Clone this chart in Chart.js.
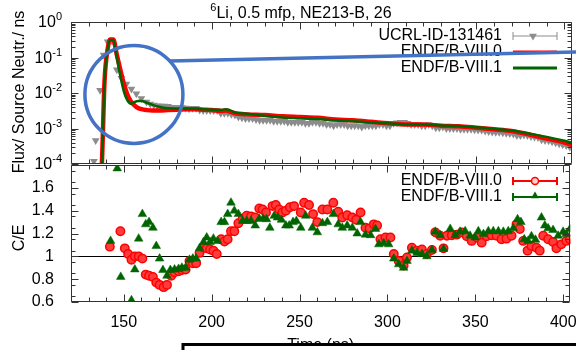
<!DOCTYPE html>
<html>
<head>
<meta charset="utf-8">
<script src="https://cdn.jsdelivr.net/npm/chart.js@4.4.1/dist/chart.umd.min.js"></script>
<style>
  html, body { margin: 0; padding: 0; background: #fff; }
  #wrap { position: relative; width: 576px; height: 350px; overflow: hidden; }
  #wrap canvas { position: absolute; left: 0; top: 0; }
</style>
</head>
<body>
<div id="wrap">
  <canvas id="ceChart" width="576" height="350"></canvas>
  <canvas id="fluxChart" width="576" height="350"></canvas>
</div>
<script>
// ---------- data ----------

// top panel: measured flux (UCRL-ID-131461)
const expTime = [133, 134, 136.5, 138.5, 140.8, 143.3, 146, 148.6, 151.4, 154.3, 157.1, 159.9, 162.8,
  165, 167, 169, 171, 173, 175, 177, 179, 181, 183,
  185, 187, 189, 191, 193, 195, 197, 199, 201, 203,
  205, 207, 209, 211, 213, 215, 217, 219, 221, 223,
  225, 227, 229, 231, 233, 235, 237, 239, 241, 243,
  245, 247, 249, 251, 253, 255, 257, 259, 261, 263,
  265, 267, 269, 271, 273, 275, 277, 279, 281, 283,
  285, 287, 289, 291, 293, 295, 297, 299, 301, 303,
  305, 307, 309, 311, 313, 315, 317, 319, 321, 323,
  325, 327, 329, 331, 333, 335, 337, 339, 341, 343,
  345, 347, 349, 351, 353, 355, 357, 359, 361, 363,
  365, 367, 369, 371, 373, 375, 377, 379, 381, 383,
  385, 387, 389, 391, 393, 395, 397, 399, 401, 403];
const expFlux = [1.2e-4, 4.6e-4, 0.012, 0.117, 0.28, 0.29, 0.045, 0.026, 0.018, 0.013, 0.0095, 0.007, 0.0056,
  0.0049, 0.0046, 0.0044, 0.0043, 0.0043, 0.0042, 0.0040, 0.0039, 0.0039, 0.0039,
  0.0038, 0.0036, 0.0037, 0.0037, 0.0033, 0.0032, 0.0032, 0.0032, 0.0032, 0.0032,
  0.0027, 0.0027, 0.0027, 0.0025, 0.0024, 0.0021, 0.0020, 0.0019, 0.0019, 0.0019,
  0.0018, 0.0017, 0.0017, 0.0017, 0.0017, 0.0016, 0.0016, 0.0016, 0.0016, 0.0015,
  0.0015, 0.0015, 0.0015, 0.0015, 0.0014, 0.0014, 0.0015, 0.0015, 0.0014, 0.0014,
  0.0013, 0.0013, 0.0012, 0.0013, 0.0013, 0.0013, 0.0012, 0.0012, 0.0012, 0.0012,
  0.0011, 0.0012, 0.0012, 0.0012, 0.0012, 0.0013, 0.0013, 0.0012, 0.0012, 0.0014,
  0.00145, 0.0015, 0.0015, 0.0014, 0.0013, 0.0013, 0.0013, 0.0012, 0.0012, 0.0013,
  0.0012, 0.00105, 0.00105, 0.0011, 0.0010, 0.0010, 0.0010, 0.0010, 0.00095, 0.00095,
  0.00096, 0.00095, 0.00092, 0.0009, 0.0009, 0.00085, 0.00082, 0.0008, 0.00078, 0.00078,
  0.00076, 0.00074, 0.00072, 0.0007, 0.00064, 0.00064, 0.00066, 0.00064, 0.0006, 0.00058,
  0.00056, 0.00048, 0.00046, 0.00045, 0.00042, 0.0004, 0.00037, 0.00035, 0.00033, 0.0003];

// top panel: calculations
const calcTime = [136, 137.5, 139, 141, 142, 144, 146, 148, 150, 152, 154, 156, 158, 160, 163, 166, 170,
  175, 180, 185, 190, 195, 200, 205, 208, 210, 213, 220, 230, 240, 250, 260, 270, 280, 290,
  300, 310, 320, 330, 340, 350, 360, 370, 380, 390, 400, 404];
const fluxB80 = [3e-5, 1e-4, 0.02, 0.2, 0.32, 0.32, 0.12, 0.045, 0.018, 0.009, 0.0058, 0.0045, 0.0038, 0.0035, 0.0033, 0.0032, 0.0032,
  0.0033, 0.0034, 0.0035, 0.0035, 0.0034, 0.0033, 0.0031, 0.0032, 0.0030, 0.0027, 0.0025, 0.0024, 0.0022, 0.0021, 0.0020, 0.0018, 0.0017, 0.00155,
  0.0014, 0.0013, 0.0013, 0.0012, 0.00115, 0.00105, 0.00095, 0.00085, 0.00068, 0.00052, 0.0004, 0.00034];
const fluxB81 = [3e-5, 1e-4, 0.02, 0.2, 0.31, 0.31, 0.1, 0.03, 0.011, 0.0062, 0.005, 0.0055, 0.006, 0.006, 0.0053, 0.0047, 0.0041,
  0.0037, 0.0036, 0.0036, 0.0036, 0.0035, 0.0034, 0.0033, 0.0035, 0.0033, 0.0028, 0.0026, 0.0023, 0.00205, 0.00195, 0.00185, 0.0017, 0.0016, 0.00148,
  0.0014, 0.0013, 0.0013, 0.00122, 0.00118, 0.00108, 0.00098, 0.00088, 0.00072, 0.00058, 0.00045, 0.0004];

// bottom panel: C/E
const ceTime80 = [142.1, 148.1, 150.6, 152.5, 154.4, 156.3, 158.5, 160.6, 162.5, 164.4, 166.6, 168.5, 170.4, 172.7, 174.6,
  177.0, 178.9, 181.2, 183.1, 185.2, 187.4, 189.3, 191.2, 193.1, 195.4, 197.2, 199.1, 201.0, 202.9, 205.4, 207.3, 209.1,
  211.0, 212.9, 215.2, 217.6, 219.9, 222.4, 224.8, 227.1, 229.0, 230.9, 234.6, 236.5, 238.4, 240.3, 242.2, 244.5, 246.9,
  250.7, 252.6, 255.4, 257.7, 260.1, 263.0, 265.8, 269.2, 272.0, 274.3, 277.1, 280.0, 282.2, 284.7, 287.5, 289.8, 292.2,
  294.1, 296.0, 298.9, 301.7, 303.6, 306.4, 309.2, 311.1, 313.9, 316.8, 319.6, 322.4, 325.3, 327.2, 330.0, 331.9, 333.8,
  336.6, 339.4, 342.3, 345.1, 347.9, 350.8, 353.6, 356.4, 359.3, 362.1, 364.9, 367.7, 370.6, 373.4, 375.3, 377.2, 379.7,
  381.9, 384.8, 386.6, 388.6, 391.4, 394.2, 396.1, 398.9, 401.7, 403.8];
const ce80 = [1.085, 1.22, 1.07, 1.02, 0.97, 1.0, 1.0, 0.98, 0.84, 0.83, 0.82, 0.77, 0.75, 0.73, 0.75,
  0.83, 0.86, 0.87, 0.88, 0.885, 0.96, 0.94, 0.94, 1.03, 1.075, 1.07, 1.06, 1.05, 1.02, 1.15, 1.13, 1.15,
  1.22, 1.22, 1.29, 1.33, 1.355, 1.35, 1.34, 1.42, 1.41, 1.385, 1.44, 1.45, 1.41, 1.385, 1.40, 1.43, 1.44,
  1.385, 1.47, 1.45, 1.37, 1.30, 1.41, 1.41, 1.47, 1.39, 1.34, 1.36, 1.34, 1.32, 1.385, 1.25, 1.245, 1.28,
  1.27, 1.15, 1.165, 1.165, 1.02, 0.96, 0.92, 0.99, 1.075, 1.05, 1.06, 1.02, 1.055, 1.21, 1.18, 1.07, 1.18,
  1.185, 1.19, 1.21, 1.175, 1.135, 1.165, 1.12, 1.175, 1.185, 1.18, 1.15, 1.155, 1.18, 1.28, 1.24, 1.135, 1.05,
  1.09, 1.075, 1.05, 1.18, 1.15, 1.125, 1.07, 1.105, 1.135, 1.15];
const ceTime81 = [142.5, 146.3, 148.3, 154.4, 156.3, 158.5, 160.6, 162.5, 164.4, 166.6, 168.5, 170.4, 172.3, 174.6, 176.5,
  178.9, 181.2, 183.1, 185.2, 187.4, 189.3, 191.2, 193.1, 195.4, 197.2, 199.1, 201.0, 203.4, 205.4, 207.3, 209.1,
  211.0, 212.9, 215.2, 217.6, 219.9, 222.4, 224.8, 227.1, 229.3, 231.2, 233.1, 235.6, 237.5, 239.7, 242.2, 244.1,
  246.3, 248.2, 250.7, 253.5, 257.3, 260.1, 263.0, 265.8, 269.2, 272.0, 274.3, 277.1, 280.0, 282.8, 284.7, 287.5,
  290.4, 293.2, 295.1, 297.9, 300.7, 303.6, 306.4, 309.2, 311.1, 313.9, 316.8, 319.6, 322.4, 325.3, 327.2, 330.0,
  331.9, 335.7, 338.5, 341.3, 344.2, 347.0, 349.9, 351.7, 354.6, 357.4, 360.2, 363.1, 365.9, 368.7, 371.6, 374.0,
  375.9, 377.8, 380.0, 381.9, 384.2, 387.6, 389.5, 391.4, 394.2, 397.1, 399.9, 401.7, 403.8];
const ce81 = [1.135, 1.77, 0.82, 0.615, 0.885, 1.155, 1.37, 1.28, 1.30, 1.25, 1.09, 0.98, 0.88, 0.83, 0.88,
  0.885, 0.89, 0.90, 0.90, 0.97, 0.98, 0.98, 1.07, 1.125, 1.165, 1.125, 1.155, 1.135, 1.30, 1.30, 1.37,
  1.47, 1.40, 1.37, 1.31, 1.31, 1.31, 1.27, 1.33, 1.33, 1.325, 1.25, 1.355, 1.34, 1.32, 1.27, 1.27,
  1.30, 1.31, 1.25, 1.355, 1.25, 1.21, 1.29, 1.30, 1.37, 1.28, 1.25, 1.27, 1.25, 1.20, 1.30, 1.19,
  1.185, 1.24, 1.105, 1.115, 1.105, 0.98, 0.93, 0.90, 0.96, 1.05, 1.03, 1.02, 1.00, 1.055, 1.215, 1.185,
  1.065, 1.24, 1.185, 1.215, 1.22, 1.18, 1.165, 1.22, 1.195, 1.22, 1.22, 1.22, 1.215, 1.22, 1.245, 1.325,
  1.30, 1.15, 1.135, 1.175, 1.145, 1.34, 1.27, 1.245, 1.23, 1.18, 1.215, 1.195, 1.24];

// axes
const timeRange = [120, 404];
const timeTicks = [150, 200, 250, 300, 350, 400];
const fluxDecades = [1, 0.1, 0.01, 0.001, 0.0001];
const ceRange = [0.6, 1.8];
const ceTicks = [0.6, 0.8, 1, 1.2, 1.4, 1.6, 1.8];
const ceLabelTicks = [0.6, 0.8, 1, 1.2, 1.4, 1.6];

// blue zoom mark drawn over the top panel
const zoomMark = { t: 155.7, flux: 0.0091, radius: 49 };

// ---------- drawing ----------

const FONT = "'Liberation Sans', Arial, Helvetica, sans-serif";
const GRAY = '#8c8c8c', RED = '#ff0000', GREEN = '#006400', BLUE = '#4472c4';

Chart.defaults.font.family = FONT;
Chart.defaults.font.size = 16;
Chart.defaults.color = '#000';

const toXY = (xs, ys) => xs.map((x, i) => ({ x: x, y: ys[i] }));

function minorTimeTicks() {
  const out = [];
  for (let v = 120; v <= 400; v += 10) if (v % 50) out.push(v);
  return out;
}

// gnuplot-style border with ticks pointing inwards on all four sides
function drawFrame(ctx, a, xs, ys, xMajor, xMinor, yMajor, yMinor) {
  ctx.save();
  ctx.strokeStyle = '#333';
  ctx.lineWidth = 1;
  ctx.beginPath();
  const L = Math.round(a.left) + 0.5, R = Math.round(a.right) - 0.5;
  const T = Math.round(a.top) + 0.5, B = Math.round(a.bottom) - 0.5;
  ctx.rect(L, T, R - L, B - T);
  const xt = (vals, len) => vals.forEach(v => {
    const px = Math.round(xs.getPixelForValue(v)) + 0.5;
    ctx.moveTo(px, B); ctx.lineTo(px, B - len);
    ctx.moveTo(px, T); ctx.lineTo(px, T + len);
  });
  const yt = (vals, len) => vals.forEach(v => {
    const py = Math.round(ys.getPixelForValue(v)) + 0.5;
    ctx.moveTo(L, py); ctx.lineTo(L + len, py);
    ctx.moveTo(R, py); ctx.lineTo(R - len, py);
  });
  xt(xMajor, 7); xt(xMinor, 4);
  yt(yMajor, 7); yt(yMinor, 4);
  ctx.stroke();
  ctx.restore();
}

function legendRow(ctx, label, y, symbol) {
  ctx.save();
  ctx.font = '16px ' + FONT;
  ctx.fillStyle = '#000';
  ctx.textAlign = 'right';
  ctx.textBaseline = 'middle';
  ctx.fillText(label, 502, y);
  symbol(513, 557, y);
  ctx.restore();
}

function barSymbol(ctx, color, width, caps) {
  return (x1, x2, y) => {
    ctx.strokeStyle = color;
    ctx.lineWidth = width;
    ctx.beginPath();
    ctx.moveTo(x1, y); ctx.lineTo(x2, y);
    if (caps) {
      ctx.moveTo(x1, y - 4); ctx.lineTo(x1, y + 4);
      ctx.moveTo(x2, y - 4); ctx.lineTo(x2, y + 4);
    }
    ctx.stroke();
  };
}

function rotatedText(ctx, text, x, y) {
  ctx.save();
  ctx.translate(x, y);
  ctx.rotate(-Math.PI / 2);
  ctx.font = '16px ' + FONT;
  ctx.fillStyle = '#000';
  ctx.textAlign = 'center';
  ctx.textBaseline = 'middle';
  ctx.fillText(text, 0, 0);
  ctx.restore();
}

const fluxDecor = {
  id: 'fluxDecor',
  afterDatasetsDraw(chart) {
    const { ctx, chartArea: a, scales: { x, y } } = chart;
    const yMinor = [];
    for (let d = -4; d < 0; d++) for (let m = 2; m < 10; m++) yMinor.push(m * Math.pow(10, d));
    drawFrame(ctx, a, x, y, timeTicks, minorTimeTicks(), fluxDecades, yMinor);
  },
  afterDraw(chart) {
    const { ctx, scales: { x, y } } = chart;
    ctx.save();
    ctx.fillStyle = '#000';
    ctx.textBaseline = 'middle';
    ctx.textAlign = 'left';

    // 10^n labels
    fluxDecades.forEach(v => {
      const e = String(Math.round(Math.log10(v)));
      const py = y.getPixelForValue(v);
      ctx.font = '16px ' + FONT;
      const wb = ctx.measureText('10').width;
      ctx.font = '11px ' + FONT;
      const we = ctx.measureText(e).width;
      const x0 = 62 - wb - we;
      ctx.font = '16px ' + FONT;
      ctx.fillText('10', x0, py + 1);
      ctx.font = '11px ' + FONT;
      ctx.fillText(e, x0 + wb, py - 5);
    });

    // title with superscript mass number
    const rest = 'Li, 0.5 mfp, NE213-B, 26';
    ctx.font = '11px ' + FONT;
    const w6 = ctx.measureText('6').width;
    ctx.font = '16px ' + FONT;
    const wr = ctx.measureText(rest).width;
    const tx = 301 - (w6 + wr) / 2;
    ctx.fillText(rest, tx + w6, 14);
    ctx.font = '11px ' + FONT;
    ctx.fillText('6', tx, 8);
    ctx.restore();

    rotatedText(ctx, 'Flux/ Source Neutr./ ns', 20, 92);

    // legend
    legendRow(ctx, 'UCRL-ID-131461', 36, (x1, x2, ly) => {
      barSymbol(ctx, GRAY, 1, true)(x1, x2, ly);
      ctx.fillStyle = GRAY;
      Chart.helpers.drawPoint(ctx, { pointStyle: 'triangle', rotation: 180, radius: 4.5, borderWidth: 0 }, (x1 + x2) / 2 - 2, ly);
    });
    legendRow(ctx, 'ENDF/B-VIII.0', 52, barSymbol(ctx, RED, 3, false));
    legendRow(ctx, 'ENDF/B-VIII.1', 68, barSymbol(ctx, GREEN, 3, false));

    // blue zoom circle and pointer line
    ctx.save();
    ctx.strokeStyle = BLUE;
    ctx.lineWidth = 3.5;
    const cx = x.getPixelForValue(zoomMark.t);
    const cy = y.getPixelForValue(zoomMark.flux);
    const r = zoomMark.radius;
    ctx.beginPath();
    ctx.arc(cx, cy, r, 0, Math.PI * 2);
    ctx.stroke();
    const ang = -43 * Math.PI / 180;
    ctx.beginPath();
    ctx.moveTo(cx + r * Math.cos(ang), cy + r * Math.sin(ang));
    ctx.lineTo(chart.width + 2, 52);
    ctx.stroke();

    // black box over the bottom edge
    ctx.fillStyle = '#fff';
    ctx.fillRect(183, 344, chart.width, 20);
    ctx.strokeStyle = '#000';
    ctx.lineWidth = 3;
    ctx.strokeRect(183, 344.5, chart.width, 30);
    ctx.restore();
  }
};

const ceDecor = {
  id: 'ceDecor',
  beforeDatasetsDraw(chart) {
    const { ctx, chartArea: a, scales: { y } } = chart;
    const py = Math.round(y.getPixelForValue(1)) + 0.5;
    ctx.save();
    ctx.strokeStyle = '#000';
    ctx.lineWidth = 1;
    ctx.beginPath();
    ctx.moveTo(a.left, py); ctx.lineTo(a.right, py);
    ctx.stroke();
    ctx.restore();
  },
  afterDatasetsDraw(chart) {
    const { ctx, chartArea: a, scales: { x, y } } = chart;
    const yMinor = [];
    for (let v = 0.65; v < 1.8; v += 0.1) yMinor.push(v);
    drawFrame(ctx, a, x, y, timeTicks, minorTimeTicks(), ceTicks, yMinor);
  },
  afterDraw(chart) {
    const { ctx, chartArea: a } = chart;
    legendRow(ctx, 'ENDF/B-VIII.0', 181, (x1, x2, ly) => {
      barSymbol(ctx, RED, 2, true)(x1, x2, ly);
      ctx.fillStyle = '#ffd0d0';
      ctx.strokeStyle = RED;
      ctx.lineWidth = 1.5;
      Chart.helpers.drawPoint(ctx, { pointStyle: 'circle', radius: 3.5, borderWidth: 1.5 }, (x1 + x2) / 2, ly);
    });
    legendRow(ctx, 'ENDF/B-VIII.1', 197, (x1, x2, ly) => {
      barSymbol(ctx, GREEN, 2, true)(x1, x2, ly);
      ctx.fillStyle = GREEN;
      Chart.helpers.drawPoint(ctx, { pointStyle: 'triangle', radius: 4.5, borderWidth: 0 }, (x1 + x2) / 2, ly - 1);
    });
    rotatedText(ctx, 'C/E', 20, 238);
    ctx.save();
    ctx.font = '16px ' + FONT;
    ctx.fillStyle = '#000';
    ctx.textAlign = 'center';
    ctx.textBaseline = 'alphabetic';
    ctx.fillText('Time (ns)', (a.left + a.right) / 2, 349.5);
    ctx.restore();
  }
};

// ---------- bottom panel: C/E ----------
new Chart(document.getElementById('ceChart'), {
  type: 'scatter',
  data: {
    datasets: [
      {
        label: 'ENDF/B-VIII.1',
        data: toXY(ceTime81, ce81),
        pointStyle: 'triangle',
        pointRadius: 5,
        pointBackgroundColor: GREEN,
        pointBorderColor: GREEN,
        pointBorderWidth: 0.5,
        order: 0
      },
      {
        label: 'ENDF/B-VIII.0',
        data: toXY(ceTime80, ce80),
        pointStyle: 'circle',
        pointRadius: 4.2,
        pointBackgroundColor: '#ff3c3c',
        pointBorderColor: RED,
        pointBorderWidth: 1.5,
        order: 1
      }
    ]
  },
  options: {
    responsive: false,
    animation: false,
    events: [],
    layout: { padding: { left: 0, top: 165, right: 2, bottom: 0 } },
    scales: {
      x: {
        type: 'linear',
        min: timeRange[0],
        max: timeRange[1],
        afterBuildTicks: s => { s.ticks = timeTicks.map(v => ({ value: v })); },
        afterFit: s => { s.height = 48; s.paddingLeft = 0; s.paddingRight = 0; },
        grid: { display: false },
        border: { display: false },
        ticks: { padding: 3, maxRotation: 0, autoSkip: false }
      },
      y: {
        type: 'linear',
        min: ceRange[0],
        max: ceRange[1],
        afterBuildTicks: s => { s.ticks = ceLabelTicks.map(v => ({ value: v })); },
        afterFit: s => { s.width = 71; s.paddingTop = 0; s.paddingBottom = 0; },
        grid: { display: false },
        border: { display: false },
        ticks: { padding: 9, autoSkip: false, callback: v => String(Math.round(v * 10) / 10) }
      }
    },
    plugins: { legend: { display: false }, tooltip: { enabled: false } }
  },
  plugins: [ceDecor]
});

// ---------- top panel: flux ----------
new Chart(document.getElementById('fluxChart'), {
  type: 'line',
  data: {
    datasets: [
      {
        label: 'ENDF/B-VIII.1',
        data: toXY(calcTime, fluxB81),
        borderColor: GREEN,
        borderWidth: 2.5,
        pointRadius: 0,
        cubicInterpolationMode: 'monotone',
        order: 0
      },
      {
        label: 'ENDF/B-VIII.0',
        data: toXY(calcTime, fluxB80),
        borderColor: RED,
        borderWidth: 4.5,
        pointRadius: 0,
        cubicInterpolationMode: 'monotone',
        order: 1
      },
      {
        label: 'UCRL-ID-131461',
        data: toXY(expTime, expFlux),
        showLine: false,
        pointStyle: 'triangle',
        pointRotation: 180,
        pointRadius: 4.5,
        pointBackgroundColor: GRAY,
        pointBorderColor: GRAY,
        pointBorderWidth: 0,
        order: 2
      }
    ]
  },
  options: {
    responsive: false,
    animation: false,
    events: [],
    layout: { padding: { left: 71, top: 22, right: 2, bottom: 186 } },
    scales: {
      x: { type: 'linear', min: timeRange[0], max: timeRange[1], display: false },
      y: { type: 'logarithmic', min: 1e-4, max: 1, display: false }
    },
    plugins: { legend: { display: false }, tooltip: { enabled: false } }
  },
  plugins: [fluxDecor]
});
</script>
</body>
</html>
